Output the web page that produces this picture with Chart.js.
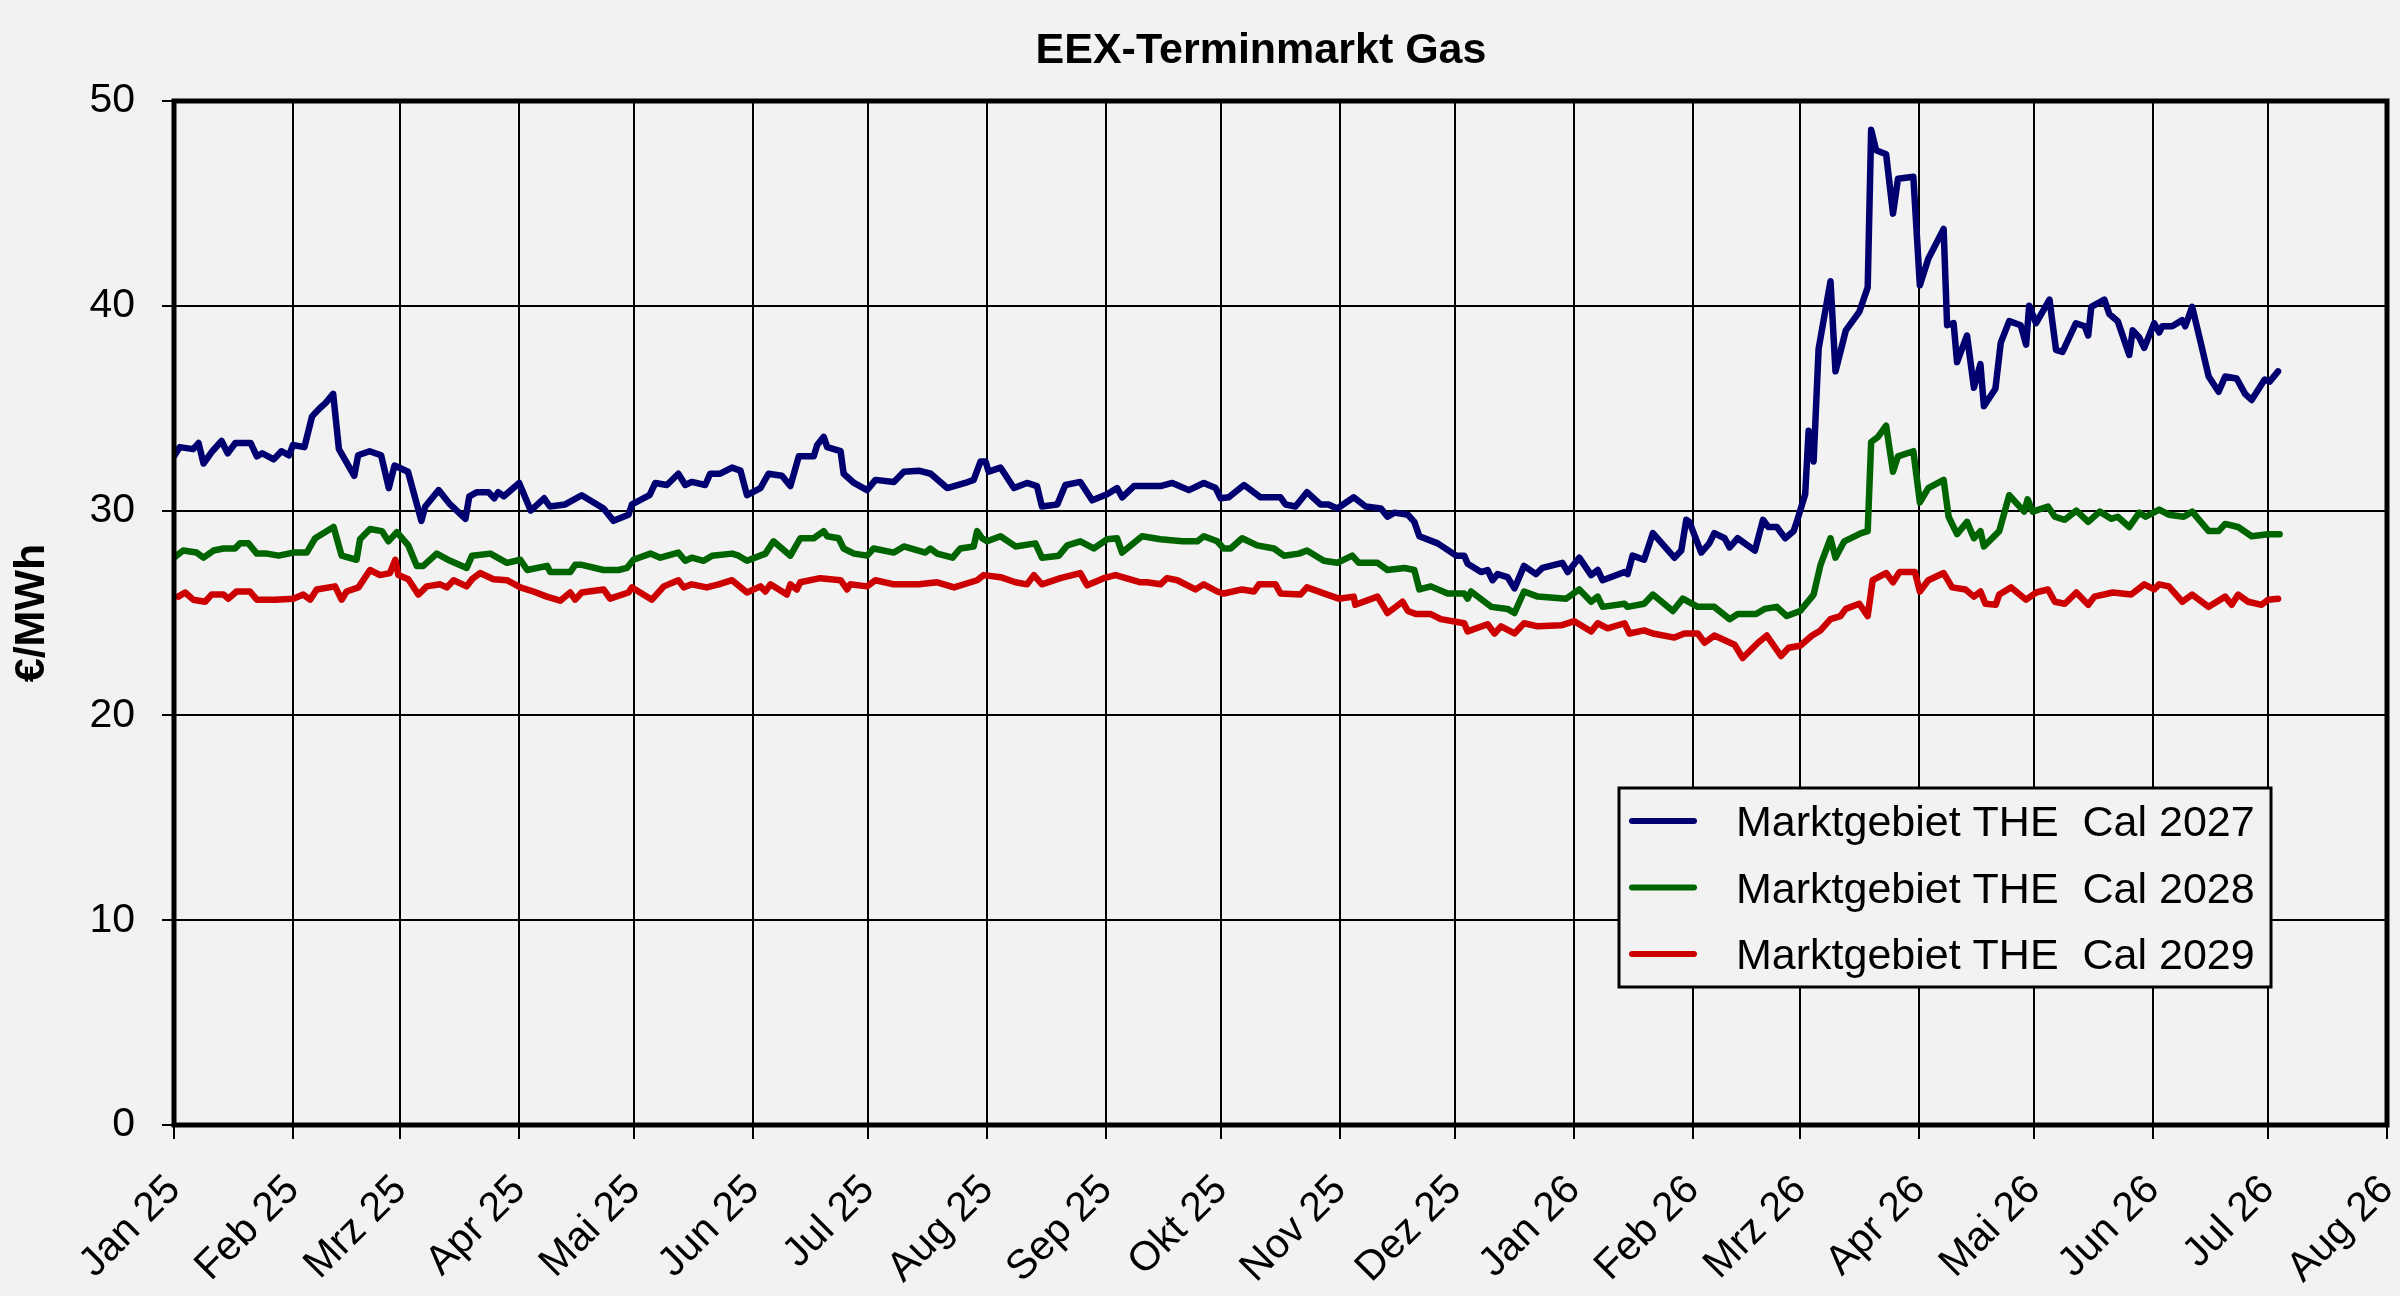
<!DOCTYPE html>
<html lang="de">
<head>
<meta charset="utf-8">
<title>EEX-Terminmarkt Gas</title>
<script src="https://cdn.jsdelivr.net/npm/chart.js@4.4.1/dist/chart.umd.min.js"></script>
<style>
  html, body { margin: 0; padding: 0; background: #f2f2f2; }
  #wrap { width: 2400px; height: 1296px; }
</style>
</head>
<body>
<div id="wrap"><canvas id="gasChart" width="2400" height="1296"></canvas></div>
<script>
// DATA (x = Tage seit 1. Jan 2025, Werte in EUR/MWh)
const monthLabels = ['Jan 25', 'Feb 25', 'Mrz 25', 'Apr 25', 'Mai 25', 'Jun 25', 'Jul 25', 'Aug 25',
  'Sep 25', 'Okt 25', 'Nov 25', 'Dez 25', 'Jan 26', 'Feb 26', 'Mrz 26', 'Apr 26', 'Mai 26',
  'Jun 26', 'Jul 26', 'Aug 26'];
const seriesLabels = ['Marktgebiet THE  Cal 2027', 'Marktgebiet THE  Cal 2028', 'Marktgebiet THE  Cal 2029'];

const days2027 = [0, 1.5, 5, 6.4, 7.7, 10, 12.4, 14, 16, 20, 21.6, 23, 26, 28, 30, 31, 34, 36, 38, 39.5,
  41.5, 43, 47, 48, 51, 54, 56, 57.5, 61, 64.5, 65.5, 69, 72, 76, 77, 79, 82, 83.5, 84.5, 86,
  90, 93, 96.5, 98, 102, 106.3, 112, 114.6, 118.5, 119.4, 124, 125.5, 128.5, 131.5, 133.3, 135, 138.5, 139.8, 142.4, 145.5,
  147.7, 149.4, 152.9, 155, 158.5, 160.7, 162.9, 166.8, 167.7, 169.4, 170.3, 173.8, 174.6, 177.3, 180.7, 182.9, 187.7, 190.3, 194.2, 197.3,
  201.6, 206.3, 208.5, 210.3, 211.6, 212.4, 215.5, 219, 222.4, 225, 226.3, 230.3, 232.4, 236.3, 239.4, 243.3, 245.9, 247.2, 250.3, 252.4,
  257.2, 260.3, 264.6, 268.5, 271.6, 272.9, 275, 279, 283.3, 288.5, 289.8, 292.4, 295.4, 298.9, 301, 303.3, 307.6, 310.7, 314.7, 316.4,
  318.2, 321.7, 323.4, 324.7, 329.5, 334.3, 336.4, 337.3, 340.8, 342.5, 343.8, 345.1, 347.7, 349.5, 352, 355.1, 356.8, 362, 363.4, 366.4,
  369.5, 371.2, 372.5, 378.2, 379, 380.3, 383.3, 385.6, 391.2, 393, 394.3, 395.1, 398.2, 400.3, 401.6, 404.3, 405.6, 407.7, 412.2, 414.3,
  415.7, 417.9, 420.1, 422.3, 423.1, 425.3, 426.2, 427.5, 428.8, 431.9, 433.2, 435.9, 439.4, 441.6, 442.5, 443.8, 446.4, 448.2, 449.5, 453.5,
  455.2, 457.4, 461.4, 462.3, 464, 464.9, 467.5, 469.3, 471, 471.9, 474.9, 476.3, 478.5, 481.5, 482.9, 483.7, 485.5, 489, 490.7, 492.4,
  495.9, 498.2, 499.1, 499.9, 503.3, 504.6, 506.8, 509.8, 510.7, 512.4, 513.7, 516.3, 517.6, 518.4, 521, 523.6, 524.4, 526.2, 528.3, 530.5,
  533.1, 534.8, 537.8, 540, 541.7, 545.1, 546.4, 548.6];
const cal2027 = [32.65, 33.1, 33.0, 33.3, 32.3, 32.9, 33.4, 32.8, 33.3, 33.3, 32.65, 32.8, 32.5, 32.9, 32.7, 33.2, 33.1, 34.6, 35.0, 35.25,
  35.7, 33.0, 31.7, 32.7, 32.9, 32.7, 31.1, 32.2, 31.9, 29.5, 30.2, 31.0, 30.3, 29.6, 30.7, 30.9, 30.9, 30.6, 30.9, 30.7,
  31.35, 30.0, 30.6, 30.2, 30.3, 30.75, 30.1, 29.5, 29.8, 30.3, 30.75, 31.35, 31.25, 31.8, 31.25, 31.4, 31.25, 31.8, 31.8, 32.1,
  31.95, 30.75, 31.1, 31.8, 31.7, 31.2, 32.65, 32.65, 33.2, 33.6, 33.1, 32.9, 31.8, 31.35, 31.0, 31.5, 31.4, 31.9, 31.95, 31.8,
  31.1, 31.35, 31.5, 32.4, 32.4, 31.9, 32.1, 31.1, 31.35, 31.2, 30.2, 30.3, 31.25, 31.4, 30.5, 30.8, 31.1, 30.65, 31.2, 31.2,
  31.2, 31.35, 31.0, 31.35, 31.1, 30.6, 30.65, 31.25, 30.65, 30.65, 30.3, 30.2, 30.9, 30.3, 30.3, 30.1, 30.65, 30.2, 30.1, 29.7,
  29.9, 29.8, 29.45, 28.75, 28.4, 27.8, 27.8, 27.4, 27.0, 27.1, 26.6, 26.9, 26.75, 26.2, 27.3, 26.9, 27.2, 27.45, 27.0, 27.7,
  26.85, 27.1, 26.6, 27.0, 26.9, 27.8, 27.6, 28.9, 27.7, 28.05, 29.55, 29.45, 27.95, 28.4, 28.9, 28.65, 28.2, 28.65, 28.05, 29.55,
  29.2, 29.2, 28.65, 29.0, 29.45, 30.8, 33.9, 32.4, 37.9, 41.2, 36.8, 38.8, 39.7, 40.9, 48.6, 47.6, 47.4, 44.5, 46.2, 46.3,
  41.0, 42.3, 43.75, 39.05, 39.15, 37.25, 38.55, 36.0, 37.15, 35.1, 35.95, 38.2, 39.25, 39.05, 38.1, 40.0, 39.15, 40.3, 37.85, 37.75,
  39.15, 39.0, 38.55, 39.95, 40.3, 39.6, 39.25, 37.6, 38.8, 38.45, 37.95, 39.15, 38.7, 39.0, 39.0, 39.3, 39.0, 39.95, 38.3, 36.55,
  35.8, 36.55, 36.45, 35.7, 35.4, 36.4, 36.3, 36.8];

const days2028 = [0, 2.4, 5.9, 7.7, 10.3, 12.9, 15.9, 17.2, 19.4, 21.6, 24.2, 27.3, 31.1, 34.6, 36.8, 41.6, 43.7, 47.6, 48.5, 51.1,
  54.2, 55.9, 58.1, 61.1, 63.3, 65, 68.5, 72, 76.3, 77.7, 82.5, 86.8, 90.3, 92.1, 97.3, 98.1, 103.3, 104.6, 106.3, 112,
  115.9, 118.1, 119.8, 124.2, 126.8, 131.5, 133.3, 135, 138.1, 140.3, 145.5, 147.2, 149.4, 154.2, 156.3, 160.7, 163.3, 166.8, 169.4, 170.3,
  173.3, 174.6, 177.3, 180.7, 182.4, 187.7, 190.3, 195.9, 197.2, 199, 203, 205, 208.5, 209.4, 210.7, 212, 215.5, 219.4, 224.6, 226.3,
  230.7, 232.9, 236.3, 239.8, 243.3, 245.9, 247.2, 252.4, 257.2, 262.9, 266.8, 268.5, 272, 273.7, 275.5, 278.5, 282.4, 286.8, 289.4, 293.3,
  295.4, 299.8, 303.3, 307.2, 308.9, 313.8, 316.4, 320.8, 323.4, 324.7, 327.7, 332.1, 336.4, 337.3, 338.2, 341.7, 343.5, 347.7, 349.5, 352,
  355.6, 363, 366.4, 369.5, 371.2, 372.5, 378.2, 379, 383.3, 385.6, 390.8, 393.4, 397.3, 401.6, 405.6, 407.7, 412.5, 414.7, 417.9, 420.5,
  424, 427.5, 429.3, 431.9, 433.2, 435.5, 439.9, 441.6, 442.5, 444.3, 446.4, 448.2, 449.5, 453.5, 455.2, 457.4, 461.4, 462.7, 464.9, 467.5,
  469.3, 471, 471.9, 475.9, 478.5, 482.4, 483.3, 484.6, 488.6, 490.4, 493, 496, 499.1, 502.1, 505.1, 506.8, 509.8, 512.4, 514.1, 517.6,
  520.1, 524, 526.2, 530.5, 533.1, 534.8, 538.2, 541.7, 546, 549];
const cal2028 = [27.7, 28.05, 27.95, 27.7, 28.05, 28.15, 28.15, 28.4, 28.4, 27.9, 27.9, 27.8, 27.95, 27.95, 28.65, 29.2, 27.8, 27.6, 28.6, 29.1,
  29.0, 28.5, 28.95, 28.3, 27.3, 27.3, 27.9, 27.55, 27.2, 27.8, 27.9, 27.45, 27.6, 27.1, 27.3, 27.0, 27.0, 27.35, 27.35, 27.1,
  27.1, 27.2, 27.6, 27.9, 27.7, 27.95, 27.55, 27.7, 27.55, 27.8, 27.9, 27.8, 27.55, 27.9, 28.5, 27.8, 28.65, 28.65, 29.0, 28.75,
  28.65, 28.15, 27.9, 27.8, 28.15, 27.95, 28.25, 27.95, 28.15, 27.9, 27.7, 28.15, 28.25, 29.0, 28.65, 28.5, 28.75, 28.25, 28.4, 27.7,
  27.8, 28.3, 28.5, 28.15, 28.6, 28.65, 27.95, 28.75, 28.6, 28.5, 28.5, 28.75, 28.5, 28.15, 28.15, 28.65, 28.3, 28.15, 27.8, 27.9,
  28.05, 27.55, 27.45, 27.8, 27.45, 27.45, 27.1, 27.2, 27.1, 26.15, 26.3, 25.95, 25.95, 25.7, 26.05, 25.55, 25.3, 25.2, 25.0, 26.05,
  25.8, 25.7, 26.15, 25.55, 25.8, 25.3, 25.45, 25.3, 25.45, 25.9, 25.1, 25.7, 25.3, 25.3, 24.7, 24.95, 24.95, 25.2, 25.3, 24.85,
  25.1, 25.9, 27.35, 28.65, 27.7, 28.5, 28.9, 29.0, 33.35, 33.6, 34.15, 31.9, 32.65, 32.9, 30.4, 31.1, 31.5, 29.7, 28.85, 29.45,
  28.65, 29.0, 28.25, 29.0, 30.75, 29.95, 30.55, 29.95, 30.2, 29.7, 29.55, 30.0, 29.45, 29.95, 29.6, 29.7, 29.2, 29.9, 29.7, 30.05,
  29.8, 29.7, 29.95, 29.0, 29.0, 29.35, 29.2, 28.75, 28.85, 28.85];

const days2029 = [1.1, 2.9, 5, 8.1, 9.8, 12.9, 14.2, 16.3, 19.8, 21.6, 26.3, 31.1, 33.7, 35.5, 37.2, 42, 43.7, 45, 48.1, 51.1,
  53.7, 56.3, 57.7, 58.5, 61.1, 63.7, 65.9, 69.4, 71.1, 72.9, 76.3, 77.7, 79.8, 83.3, 86.8, 90.3, 93.7, 97.2, 100.7, 103.3,
  104.6, 106.3, 112, 113.7, 118.5, 119.4, 124.6, 127.7, 131.5, 132.9, 135, 138.9, 142, 145.5, 149.4, 152.9, 154.2, 155.5, 159.8, 160.7,
  162.4, 163.3, 168.5, 173.8, 175.5, 176.3, 180.7, 182.9, 187.7, 194.2, 199, 203.4, 209.4, 211.1, 215.5, 219.4, 222.4, 224.2, 226.3, 231.1,
  236.3, 238.1, 242.4, 245.5, 252, 253.7, 257.2, 258.9, 261.6, 266.3, 268.5, 272, 273.7, 278.5, 281.6, 282.9, 287.2, 288.5, 293.7, 295.4,
  300.7, 303.7, 307.6, 308, 313.8, 316.4, 320.3, 321.7, 323.8, 327.7, 330.3, 336.4, 337.3, 342.5, 344.3, 346, 349.5, 352, 355.6, 361.7,
  365.1, 369.5, 371.2, 373.8, 378.2, 379.5, 383.3, 385.6, 391.2, 393.8, 397.3, 399.1, 401.6, 406.9, 409, 413, 415.3, 419, 421, 424,
  427.1, 429.3, 431.9, 434.5, 435.9, 439.4, 441.6, 442.9, 446.4, 448.2, 449.9, 453.9, 455.2, 457.4, 461.4, 463.6, 467.1, 469.3, 471, 472.3,
  475, 475.9, 479, 482.9, 485.5, 488.6, 490.4, 493, 496, 499.1, 500.7, 505.5, 510.3, 513.7, 516.3, 517.6, 520.1, 523.6, 526.2, 530.5,
  534.8, 536.5, 538.2, 540.8, 544.3, 546, 548.6];
const cal2029 = [25.8, 26.0, 25.65, 25.55, 25.9, 25.9, 25.7, 26.05, 26.05, 25.65, 25.65, 25.7, 25.9, 25.65, 26.15, 26.3, 25.65, 26.05, 26.25, 27.1,
  26.85, 26.95, 27.6, 26.85, 26.65, 25.9, 26.3, 26.4, 26.25, 26.6, 26.3, 26.65, 26.95, 26.65, 26.6, 26.25, 26.05, 25.8, 25.6, 26.0,
  25.65, 26.0, 26.15, 25.7, 26.0, 26.25, 25.65, 26.3, 26.6, 26.25, 26.4, 26.25, 26.4, 26.6, 26.0, 26.3, 26.05, 26.4, 25.9, 26.4,
  26.15, 26.5, 26.7, 26.6, 26.15, 26.4, 26.3, 26.6, 26.4, 26.4, 26.5, 26.25, 26.6, 26.85, 26.75, 26.5, 26.4, 26.85, 26.4, 26.7,
  26.95, 26.35, 26.7, 26.85, 26.5, 26.5, 26.4, 26.7, 26.6, 26.15, 26.4, 26.05, 25.95, 26.15, 26.05, 26.4, 26.4, 25.95, 25.9, 26.25,
  25.9, 25.7, 25.8, 25.4, 25.8, 25.0, 25.55, 25.1, 24.95, 24.95, 24.7, 24.5, 24.1, 24.45, 24.0, 24.35, 24.0, 24.5, 24.35, 24.4,
  24.6, 24.1, 24.5, 24.25, 24.5, 24.0, 24.15, 24.0, 23.8, 24.0, 24.0, 23.55, 23.9, 23.45, 22.8, 23.55, 23.9, 22.9, 23.3, 23.4,
  23.9, 24.15, 24.7, 24.85, 25.2, 25.45, 24.85, 26.6, 26.95, 26.5, 27.0, 27.0, 26.05, 26.6, 26.95, 26.25, 26.15, 25.8, 26.05, 25.45,
  25.4, 25.9, 26.25, 25.65, 26.0, 26.15, 25.55, 25.45, 26.0, 25.4, 25.8, 26.0, 25.9, 26.4, 26.15, 26.4, 26.3, 25.55, 25.9, 25.3,
  25.8, 25.4, 25.9, 25.55, 25.4, 25.65, 25.7];

const seriesColors = ['#000070', '#006400', '#cc0000'];

/* Monatsanfänge als Tage seit 1. Jan 2025 */
const monthDays = monthLabels.map((_, i) => (Date.UTC(2025, i, 1) - Date.UTC(2025, 0, 1)) / 86400000);

const toPoints = (xs, ys) => xs.map((x, i) => ({ x: x, y: ys[i] }));

const FONT = "'Liberation Sans', Arial, sans-serif";

/* background, frame, title and legend */
const decorPlugin = {
  id: 'decor',
  beforeDraw(chart) {
    const ctx = chart.ctx;
    ctx.save();
    ctx.fillStyle = '#f2f2f2';
    ctx.fillRect(0, 0, chart.width, chart.height);
    ctx.restore();
  },
  afterDatasetsDraw(chart) {
    const { ctx, chartArea: a } = chart;
    ctx.save();
    ctx.strokeStyle = '#000';
    ctx.lineWidth = 5;
    ctx.strokeRect(a.left, a.top, a.right - a.left, a.bottom - a.top);
    ctx.restore();
  },
  afterDraw(chart) {
    const ctx = chart.ctx;
    ctx.save();
    // title
    ctx.fillStyle = '#000';
    ctx.font = 'bold 43px ' + FONT;
    ctx.textAlign = 'center';
    ctx.textBaseline = 'alphabetic';
    ctx.fillText('EEX-Terminmarkt Gas', 1261, 63);

    // legend box inside the plot
    const box = { x: 1619, y: 788, w: 652, h: 199 };
    ctx.fillStyle = '#f2f2f2';
    ctx.fillRect(box.x, box.y, box.w, box.h);
    ctx.strokeStyle = '#000';
    ctx.lineWidth = 3;
    ctx.strokeRect(box.x, box.y, box.w, box.h);

    ctx.font = '43px ' + FONT;
    ctx.textAlign = 'left';
    chart.data.datasets.forEach((ds, i) => {
      const yc = 821 + i * 66.5;
      ctx.strokeStyle = ds.borderColor;
      ctx.lineWidth = 6;
      ctx.lineCap = 'round';
      ctx.beginPath();
      ctx.moveTo(1632, yc);
      ctx.lineTo(1694, yc);
      ctx.stroke();
      ctx.fillStyle = '#000';
      ctx.fillText(ds.label, 1736, yc + 15);
    });
    ctx.restore();
  }
};

const lineStyle = { borderWidth: 6.5, tension: 0, borderJoinStyle: 'round', borderCapStyle: 'round', pointRadius: 0 };

const config = {
  type: 'line',
  data: {
    datasets: [
      Object.assign({ label: seriesLabels[0], data: toPoints(days2027, cal2027), borderColor: seriesColors[0] }, lineStyle),
      Object.assign({ label: seriesLabels[1], data: toPoints(days2028, cal2028), borderColor: seriesColors[1] }, lineStyle),
      Object.assign({ label: seriesLabels[2], data: toPoints(days2029, cal2029), borderColor: seriesColors[2] }, lineStyle)
    ]
  },
  options: {
    responsive: false,
    devicePixelRatio: 1,
    animation: false,
    layout: { padding: { top: 101, right: 13, bottom: 0, left: 0 } },
    elements: {
      point: { radius: 0, hoverRadius: 0 }
    },
    plugins: {
      legend: { display: false },
      title: { display: false },
      tooltip: { enabled: false }
    },
    scales: {
      x: {
        type: 'linear',
        min: monthDays[0],
        max: monthDays[monthDays.length - 1],
        afterBuildTicks: (scale) => {
          scale.ticks = monthDays.map(v => ({ value: v }));
        },
        afterFit: (scale) => {
          scale.height = 171;
          scale.paddingLeft = 0;
          scale.paddingRight = 0;
        },
        border: { display: false },
        grid: { color: '#000', lineWidth: 2, tickLength: 14, drawTicks: true },
        ticks: {
          autoSkip: false,
          maxRotation: 45,
          minRotation: 45,
          padding: 27,
          color: '#000',
          font: { family: FONT, size: 41 },
          callback: (value) => monthLabels[monthDays.indexOf(value)]
        }
      },
      y: {
        min: 0,
        max: 50,
        afterFit: (scale) => {
          scale.width = 174;
          scale.paddingTop = 0;
          scale.paddingBottom = 0;
        },
        border: { display: false },
        grid: { color: '#000', lineWidth: 2, tickLength: 12, drawTicks: true },
        ticks: {
          stepSize: 10,
          padding: 27,
          color: '#000',
          font: { family: FONT, size: 41 }
        },
        title: {
          display: true,
          text: '€/MWh',
          color: '#000',
          font: { family: FONT, size: 43, weight: 'bold' },
          padding: { top: 6, bottom: 0 }
        }
      }
    }
  },
  plugins: [decorPlugin]
};

const gasChart = new Chart(document.getElementById('gasChart'), config);
</script>
</body>
</html>
